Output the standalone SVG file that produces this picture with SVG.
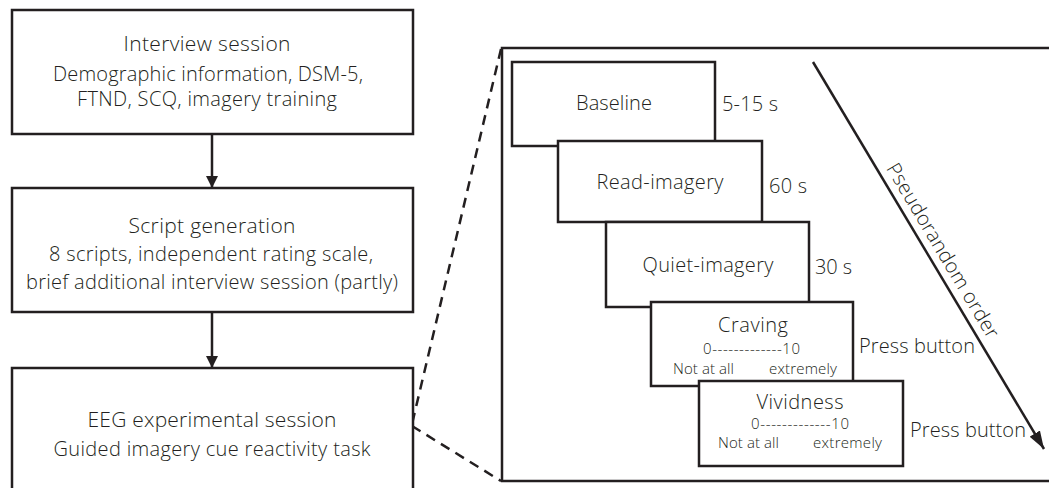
<svg xmlns="http://www.w3.org/2000/svg" width="1049" height="488" viewBox="0 0 1049 488">
<style>
.box{fill:#fff;stroke:#231f20;stroke-width:2.5}
.frame{fill:none;stroke:#231f20;stroke-width:2.5}
.ln{fill:none;stroke:#231f20;stroke-width:2.5}
.dash{fill:none;stroke:#231f20;stroke-width:2.5;stroke-dasharray:10 7}
text{font-family:"Open Sans","Liberation Sans",sans-serif;font-weight:300;fill:#231f20;font-size:20px}
.c{text-anchor:middle}
.t{font-size:21px}
.s{font-size:15px}
</style>
<defs>
<marker id="ah" viewBox="0 0 12 12" refX="12" refY="6" markerWidth="12" markerHeight="12" markerUnits="userSpaceOnUse" orient="auto">
<path d="M0,0 L12,6 L0,12 Z" fill="#231f20"/>
</marker>
<marker id="ah2" viewBox="0 0 18 12" refX="18" refY="6" markerWidth="18" markerHeight="12" markerUnits="userSpaceOnUse" orient="auto">
<path d="M0,0 L18,6 L0,12 Z" fill="#231f20"/>
</marker>
</defs>
<rect width="1049" height="488" fill="#fff"/>
<g id="task-frame">
<rect class="frame" x="502" y="48" width="560" height="433"/>
</g>
<g id="connectors">
<line class="ln" x1="212" y1="134" x2="212" y2="188" marker-end="url(#ah)"/>
<line class="ln" x1="212" y1="312" x2="212" y2="368" marker-end="url(#ah)"/>
<line class="dash" x1="501" y1="49" x2="412" y2="424"/>
<line class="dash" x1="412" y1="426" x2="501" y2="481"/>
<line class="ln" x1="813" y1="62" x2="1044" y2="449" marker-end="url(#ah2)"/>
</g>
<g id="interview">
<rect class="box" x="12" y="10" width="401" height="124"/>
<text class="c t" x="207" y="51" textLength="167">Interview session</text>
<text class="c" x="208" y="81" textLength="310">Demographic information, DSM-5,</text>
<text class="c" x="207" y="106" textLength="260">FTND, SCQ, imagery training</text>
</g>
<g id="script">
<rect class="box" x="12" y="188" width="401" height="124"/>
<text class="c t" x="212" y="233" textLength="167">Script generation</text>
<text class="c" x="211" y="261" textLength="324">8 scripts, independent rating scale,</text>
<text class="c" x="212" y="289" textLength="372">brief additional interview session (partly)</text>
</g>
<g id="eeg">
<rect class="box" x="12" y="368" width="401" height="130"/>
<text class="c t" x="212" y="427" textLength="249">EEG experimental session</text>
<text class="c" x="212" y="456" textLength="317">Guided imagery cue reactivity task</text>
</g>
<g id="baseline">
<rect class="box" x="512" y="62" width="203" height="84"/>
<text class="c" x="614" y="110" textLength="76">Baseline</text>
<text x="722" y="111" textLength="56">5-15 s</text>
</g>
<g id="read">
<rect class="box" x="558" y="141" width="204" height="81"/>
<text class="c" x="660" y="189" textLength="127">Read-imagery</text>
<text x="769" y="193" textLength="38">60 s</text>
</g>
<g id="quiet">
<rect class="box" x="606" y="222" width="203" height="85"/>
<text class="c" x="708" y="272" textLength="131">Quiet-imagery</text>
<text x="815" y="274" textLength="37">30 s</text>
</g>
<g id="craving">
<rect class="box" x="651" y="302" width="202" height="84"/>
<text class="c" x="753" y="332" textLength="70">Craving</text>
<text class="s" x="703" y="354" textLength="97">0-------------10</text>
<text class="s" x="673" y="374" textLength="61">Not at all</text>
<text class="s" x="837" y="374" text-anchor="end" textLength="68">extremely</text>
<text x="859" y="353" textLength="116">Press button</text>
</g>
<g id="vividness">
<rect class="box" x="699" y="381" width="204" height="85"/>
<text class="c" x="800" y="409" textLength="87">Vividness</text>
<text class="s" x="751" y="429" textLength="98">0-------------10</text>
<text class="s" x="718" y="448" textLength="61">Not at all</text>
<text class="s" x="882" y="448" text-anchor="end" textLength="69">extremely</text>
<text x="910" y="437" textLength="116">Press button</text>
</g>
<g id="order-label">
<text class="c" transform="translate(937,254) rotate(59.17)" textLength="200">Pseudorandom order</text>
</g>
</svg>
